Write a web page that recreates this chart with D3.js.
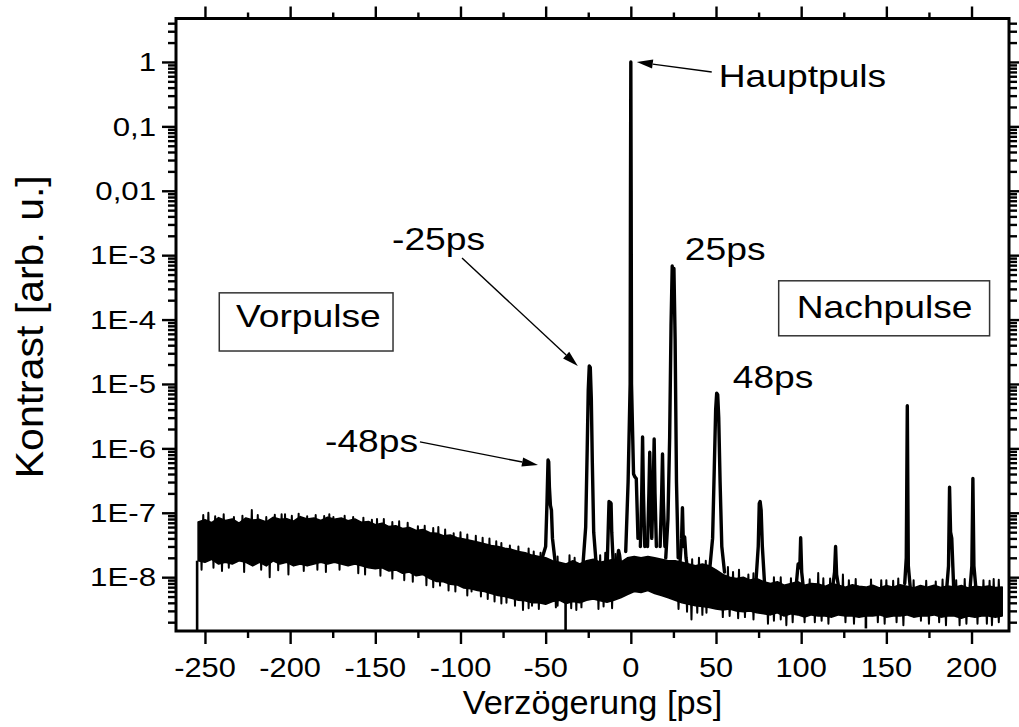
<!DOCTYPE html>
<html>
<head>
<meta charset="utf-8">
<script src="https://cdn.jsdelivr.net/npm/d3@7"></script>
<style>
  body { margin: 0; background: #fff; }
  svg { display: block; }
  text { font-family: "Liberation Sans", Arial, Helvetica, sans-serif; fill: #000; }
</style>
</head>
<body>
<svg id="chart" width="1019" height="727"></svg>
<script>
// ---- axis ticks -------------------------------------------------------
const xMajor = [-250, -200, -150, -100, -50, 0, 50, 100, 150, 200];
const xMinor = [-225, -175, -125, -75, -25, 25, 75, 125, 175];
const yMajor = [1, 0.1, 0.01, 1e-3, 1e-4, 1e-5, 1e-6, 1e-7, 1e-8];
const yLabels = ["1", "0,1", "0,01", "1E-3", "1E-4", "1E-5", "1E-6", "1E-7", "1E-8"];

// ---- noise floor of the contrast trace (values in units of 1e-9) -------
const bandX = [
  -254,-250,-246,-242,-238,-234,-230,-226,-222,-218,
  -214,-210,-206,-202,-198,-194,-190,-186,-182,-178,
  -174,-170,-166,-162,-158,-154,-150,-146,-142,-138,
  -134,-130,-126,-122,-118,-114,-110,-106,-102,-98,
  -94,-90,-86,-82,-78,-74,-70,-66,-62,-58,
  -54,-50,-46,-42,-38,-34,-30,-26,-22,-18,
  -14,-10,-6,-2,2,6,10,14,18,22,
  26,30,34,38,42,46,50,54,58,62,
  66,70,74,78,82,86,90,94,98,102,
  106,110,114,118,122,126,130,134,138,142,
  146,150,154,158,162,166,170,174,178,182,
  186,190,194,198,202,206,210,214,218
];
const bandHi = [
  72,78,70,84,76,80,69,83,77,79,
  72,85,79,81,74,87,80,83,76,85,
  79,83,75,80,71,73,65,69,61,63,
  57,59,53,55,49,48,44,45,41,39,
  37,35,33,31,30,28,27,25,24,22,
  21,20,18,17,16,18,16,18,19,17,
  18,19,17,20,21,20,21,20,19,18,
  18,17,16,15,16,15,13,11,10,9.5,
  10,9,9.5,8.5,8,8.5,7.5,8,8.5,7.5,
  8,7.8,7.2,8,7.5,7,7.6,7.2,7,7.5,
  6.8,7.4,7,7.6,7.2,6.8,7.4,7,7.5,6.9,
  7.3,7,7.4,6.8,7.2,7,7.3,6.9,7
];
const bandLo = [
  18,17,19,16,17,16,18,17,15,17,
  15,18,16,17,15,16,15,16,17,16,
  17,16,15,16,15,14,13.5,14,12.5,13,
  11.5,12,10.5,11,9.5,8.6,8.5,7.8,7.6,6.8,
  6.6,6.2,6,5.6,5.2,5,4.7,4.4,4.3,4,
  4,3.8,4.2,4.4,3.9,4.2,4,4.4,4.6,4.3,
  4.1,4.4,4.8,5.4,6,5.8,6.2,5.6,5.2,4.8,
  4.4,4,3.8,3.6,3.5,3.4,3.2,3.1,3.2,3,
  2.9,3.0,2.8,2.7,2.6,2.8,2.5,2.7,2.6,2.4,
  2.6,2.5,2.5,2.4,2.6,2.5,2.5,2.4,2.5,2.5,
  2.6,2.4,2.5,2.5,2.6,2.4,2.5,2.5,2.6,2.4,
  2.5,2.5,2.3,2.5,2.4,2.5,2.5,2.4,2.5
];

// single noise spikes sticking out of the floor (units of 1e-9)
const needleX = [
  // upward
  -251,-248,-244,-239,-233,-228,-222.5,-219,-214,-209,-205,-203,-199,-195,-190,-185,-180,-177,-174.6,-168,
  -163,-157,-152,-149,-145,-140,-136,-131,-125,-121,-116,-113,-109,-104,-100,-96,-91,-87,-83,-79,
  -76,-71,-66,-60,-57,-53,-43,-36,-33,-18,-15,-9,36,40,44,57,60,63.5,69,72,
  84,88,94,105,110,113,117,124.5,128,132,141,147,150,154,157,166,173.4,179,183,191,
  196,207,210.6,213,216,
  // downward
  -252,-245,-240,-236,-227,-217,-212,-207,-201,-192,-184,-179,-171,-160,-156,-147,-140,-133,-128,-120,
  -116,-112,-107,-103,-96,-93.5,-88,-84,-80,-76,-73,-68,-63.3,-60,-58,-54,-44,-43,-35,-32,
  -29,-19,-16,-11,28,33,35.6,39,42,44.4,54,58,63,67,72,80.5,84,88,91.3,95,
  102,108,112,116,126,131,145,149,156,160,170.3,175,181,185,193,197,203.5,209,212,216
];
const needleFoot = [
  40,40,40,40,40,40,40,40,40,40,40,40,40,40,40,40,40,40,40,40,
  38,36,34,33,32,30,29,28,26,24,22,21,20,19,18,17,16,15,14,13,
  12,11,10,9,9,8.5,8,8,8,9,9,9,7,7,6.5,5.5,5,5,5,5,
  4.4,4.4,4.4,4.2,4.2,4.2,4.2,4.2,4.2,4.2,4.2,4.2,4.2,4.2,4.2,4.2,4.2,4.2,4.2,4.2,
  4.2,4.2,4.2,4.2,4.2,
  40,40,40,40,40,40,40,40,40,40,40,40,38,36,35,32,30,28,26,24,
  22,21,19,18,16,15,14,13,12,11,10,10,9,9,9,8.5,8,8,8,8,
  8,9,9,9,7,7,7,7,6.5,6.5,5.5,5,5,5,5,4.6,4.4,4.4,4.4,4.4,
  4.2,4.2,4.2,4.2,4.2,4.2,4.2,4.2,4.2,4.2,4.2,4.2,4.2,4.2,4.2,4.2,4.2,4.2,4.2,4.2
];
const needleTip = [
  92,100,88,95,86,90,110,92,86,93,95,95,90,97,88,92,89,95,86,90,
  86,84,78,80,80,72,74,70,62,63,58,60,55,48,50,46,44,41,40,36,
  34,31,30,28,25,24,21,22,20,22,24,23,19,20,18,14.4,12,13,11,11.5,
  10,10,9.6,9.3,11.6,9.6,9.5,11,9,9.4,9.2,9,9,8.8,9.5,9,8.8,8.6,9.2,9,
  9.4,9,8.8,9.4,9.1,
  13,14,12.5,14,12,13,10,12.8,11,12.5,13,12,13,11.5,11,10.5,9.5,9,8.5,7.5,
  7,7.4,6.2,6,5.2,6,5,4.6,4.2,3.9,4,3.6,3.1,3.3,3.6,3.2,3.4,3.6,3.3,3.1,
  3.4,3.2,3.5,3.3,3.2,2.9,2.2,2.8,2.6,2.8,2.4,2.5,2.3,2.4,2.2,1.9,2.1,2.2,1.8,2.0,
  2.0,2.0,2.1,1.9,2.0,1.9,2.0,1.9,2.0,1.8,2.1,1.9,2.0,1.8,1.8,1.9,1.9,1.9,1.8,2.0
];

// drop-outs of the detector signal (units of 1e-9)
const dipX    = [-254.6, -38.3, 138];
const dipFrom = [18, 4, 2.5];
const dipTo   = [1.4, 1.45, 1.6];

// ---- pulses: delay (ps) and contrast ------------------------------------
const peakX = [
  [-52,-50,-49.2,-48.6,-48.2,-47.8,-47.2,-46.6,-46,-44.5],
  [-28,-26.5,-25.6,-25,-24.4,-23.8,-23.2,-22.6,-21.8,-20.5],
  [-13.8,-12.8,-12.4,-12,-11.6,-11.2,-10.4],
  [-8,-7.2,-6.6,-6],
  [-3,-1.6,-0.4,-0.2,0,0.2,0.4,1.6,2.4,3.2,4.2],
  [5.6,6.4,6.9,7.4,8.2],
  [9.8,10.6,11.1,11.6,12.3,13.2,13.7,14.2,15],
  [17.2,18.1,18.6,19.1,20],
  [20.5,21.8,22.8,23.6,24.3,24.8,25.3,26,26.8,27.8],
  [28.8,29.8,30.3,30.9,31.6,32.4,33.2],
  [46.5,48,49,49.8,50.4,51,51.6,52.4,53.4,55],
  [73.5,74.8,75.4,75.9,76.5,77.2,78.5],
  [97,98.2,99.2,99.7,100.3,101.5],
  [118.5,119.6,120.2,120.8,122],
  [160.8,161.7,162.3,162.9,164],
  [185.5,186.5,187.1,187.7,188.4,189.5],
  [199.2,200.2,200.8,201.4,202.5]
];
const peakV = [
  [2e-8,3e-8,1.5e-7,6.6e-7,6.2e-7,2.5e-7,1.3e-7,1.1e-7,4e-8,1.8e-8],
  [1.7e-8,6e-8,1e-6,8e-6,1.9e-5,1.8e-5,6e-6,6e-7,5e-8,1.8e-8],
  [1.8e-8,1.5e-7,1.2e-7,1.45e-7,1.4e-7,5e-8,1.8e-8],
  [1.7e-8,2.6e-8,2.2e-8,1.6e-8],
  [2.5e-8,3e-7,1e-5,1e-2,1,1e-2,1e-5,4e-7,3.6e-7,3.4e-7,4e-8],
  [3e-8,2e-7,1.5e-6,2e-7,3e-8],
  [3e-8,2e-7,8.7e-7,2e-7,4e-8,3e-7,1.4e-6,2e-7,3e-8],
  [3e-8,2e-7,8.2e-7,1.5e-7,3e-8],
  [2e-8,8e-8,1.5e-6,8e-5,6.8e-4,3e-4,6.2e-4,5e-5,3e-7,2e-8],
  [1.6e-8,4e-8,1.2e-7,3e-8,4.2e-8,2e-8,1.4e-8],
  [1.5e-8,4e-8,5e-7,4e-6,7.2e-6,6.8e-6,3e-6,3e-7,3e-8,1.2e-8],
  [9e-9,3e-8,1.4e-7,1.5e-7,1.1e-7,3e-8,8e-9],
  [7e-9,1.6e-8,1.4e-8,4.1e-8,1.2e-8,6e-9],
  [7e-9,1.2e-8,3e-8,1.1e-8,7e-9],
  [8e-9,2e-8,4.6e-6,1.5e-8,7e-9],
  [7e-9,1.5e-8,2.5e-7,5e-8,4e-8,7e-9],
  [7e-9,1.5e-8,3.4e-7,1.5e-8,7e-9]
];

// ---- annotations (delay in ps, contrast) --------------------------------
const noteText = ["Hauptpuls", "-25ps", "25ps", "48ps", "-48ps"];
const noteX    = [51.6, -140.2, 31.7, 59.8, -179.5];
const noteV    = [0.41, 1.2e-3, 8.4e-4, 8.7e-6, 8.8e-7];

const arrowFromX = [47.5, -99.1, -123.8];
const arrowFromV = [0.70, 9.05e-4, 1.26e-6];
const arrowToX   = [3.5, -31.1, -54.5];
const arrowToV   = [1.0, 1.9e-5, 5.5e-7];

const boxText  = ["Vorpulse", "Nachpulse"];
const boxTextX = [-231.8, 97.4];
const boxTextV = [7.67e-5, 1.06e-4];
const boxX0 = [-241.6, 86.8], boxX1 = [-139.6, 210.6];
const boxV0 = [2.6e-4, 4.0e-4], boxV1 = [3.25e-5, 5.6e-5];

// ---- layout -------------------------------------------------------------
const plot = { left: 176, right: 1009, top: 18.5, bottom: 631 };
const nano = 1e-9;
const svg = d3.select("#chart");

const x = d3.scaleLinear().domain([-267, 222]).range([plot.left, plot.right]);
const y = d3.scaleLog().domain([1.46e-9, 4.73]).range([plot.bottom, plot.top]);

svg.append("defs").append("clipPath").attr("id", "plotArea")
  .append("rect")
  .attr("x", plot.left).attr("y", plot.top)
  .attr("width", plot.right - plot.left).attr("height", plot.bottom - plot.top);

const data = svg.append("g").attr("clip-path", "url(#plotArea)");

// noise floor band
const band = bandX.map((t, i) => ({ t, lo: bandLo[i] * nano, hi: bandHi[i] * nano }));
data.append("path")
  .datum(band)
  .attr("d", d3.area().x(d => x(d.t)).y0(d => y(d.lo)).y1(d => y(d.hi)))
  .attr("fill", "#000").attr("stroke", "#000")
  .attr("stroke-width", 1.6).attr("stroke-linejoin", "round");

// spikes of the noise
data.append("g").selectAll("path")
  .data(needleX.map((t, i) => ({ t, foot: needleFoot[i] * nano, tip: needleTip[i] * nano })))
  .join("path")
  .attr("d", d => `M${x(d.t - 0.45)},${y(d.foot)}L${x(d.t)},${y(d.tip)}L${x(d.t + 0.45)},${y(d.foot)}`)
  .attr("fill", "#000").attr("stroke", "#000").attr("stroke-width", 2)
  .attr("stroke-linejoin", "round");

// drop-outs down to the bottom of the axis
data.append("g").selectAll("line")
  .data(dipX.map((t, i) => ({ t, a: dipFrom[i] * nano, b: dipTo[i] * nano })))
  .join("line")
  .attr("x1", d => x(d.t)).attr("x2", d => x(d.t))
  .attr("y1", d => y(d.a)).attr("y2", d => y(d.b))
  .attr("stroke", "#000").attr("stroke-width", 2.6);

// pulses
const pulseLine = d3.line().x(d => x(d[0])).y(d => y(d[1]));
data.append("g").selectAll("path")
  .data(peakX.map((xs, i) => xs.map((t, j) => [t, peakV[i][j]])))
  .join("path")
  .attr("d", pulseLine)
  .attr("fill", "none").attr("stroke", "#000").attr("stroke-width", 3.4)
  .attr("stroke-linejoin", "round").attr("stroke-linecap", "round");

// ---- axes ---------------------------------------------------------------
function styleAxis(g) {
  g.select(".domain").remove();
  g.selectAll("line").attr("stroke", "#000").attr("stroke-width", 2.4);
  g.selectAll("text").remove();
}
const yMinor = y.ticks(40).filter(v => !yMajor.some(m => Math.abs(Math.log10(v) - Math.log10(m)) < 1e-6));

svg.append("g").attr("transform", `translate(0,${plot.bottom})`)
  .call(d3.axisBottom(x).tickValues(xMajor).tickSize(13)).call(styleAxis);
svg.append("g").attr("transform", `translate(0,${plot.bottom})`)
  .call(d3.axisBottom(x).tickValues(xMinor).tickSize(7)).call(styleAxis);
svg.append("g").attr("transform", `translate(0,${plot.top})`)
  .call(d3.axisTop(x).tickValues(xMajor).tickSize(12)).call(styleAxis);
svg.append("g").attr("transform", `translate(0,${plot.top})`)
  .call(d3.axisTop(x).tickValues(xMinor).tickSize(6)).call(styleAxis);

svg.append("g").attr("transform", `translate(${plot.left},0)`)
  .call(d3.axisLeft(y).tickValues(yMajor).tickSize(14)).call(styleAxis);
svg.append("g").attr("transform", `translate(${plot.left},0)`)
  .call(d3.axisLeft(y).tickValues(yMinor).tickSize(8)).call(styleAxis);
svg.append("g").attr("transform", `translate(${plot.right},0)`)
  .call(d3.axisRight(y).tickValues(yMajor).tickSize(14)).call(styleAxis);
svg.append("g").attr("transform", `translate(${plot.right},0)`)
  .call(d3.axisRight(y).tickValues(yMinor).tickSize(8)).call(styleAxis);

// frame
svg.append("rect")
  .attr("x", plot.left).attr("y", plot.top)
  .attr("width", plot.right - plot.left).attr("height", plot.bottom - plot.top)
  .attr("fill", "none").attr("stroke", "#000").attr("stroke-width", 3);

// text helper: stretched horizontally around its anchor
function label(parent, str, px, py, size, sx, anchor) {
  return parent.append("text")
    .attr("transform", `translate(${px},${py}) scale(${sx},1)`)
    .attr("font-size", size)
    .attr("text-anchor", anchor || "start")
    .text(str);
}

const labels = svg.append("g");
xMajor.forEach(d => label(labels, String(d), x(d), 677, 28, 1.1, "middle"));
yMajor.forEach((v, i) => label(labels, yLabels[i], 156, y(v) + 9.3, 26, 1.2, "end"));

label(labels, "Verzögerung [ps]", (plot.left + plot.right) / 2, 714, 33, 1.04, "middle");
labels.append("text")
  .attr("transform", `translate(43,${(plot.top + plot.bottom) / 2 + 2}) scale(0.95,1) rotate(-90)`)
  .attr("font-size", 41).attr("text-anchor", "middle")
  .text("Kontrast [arb. u.]");

// ---- annotations --------------------------------------------------------
const notes = svg.append("g");
noteText.forEach((s, i) => label(notes, s, x(noteX[i]), y(noteV[i]), 31, 1.2, "start"));

arrowFromX.forEach((fx, i) => {
  const x1 = x(fx), y1 = y(arrowFromV[i]);
  const x2 = x(arrowToX[i]), y2 = y(arrowToV[i]);
  const a = Math.atan2(y2 - y1, x2 - x1);
  const len = 16, half = 4.5;
  const bx = x2 - len * Math.cos(a), by = y2 - len * Math.sin(a);
  notes.append("line")
    .attr("x1", x1).attr("y1", y1).attr("x2", bx).attr("y2", by)
    .attr("stroke", "#000").attr("stroke-width", 1.4);
  notes.append("path")
    .attr("d", `M${x2},${y2}L${bx + half * Math.sin(a)},${by - half * Math.cos(a)}L${bx - half * Math.sin(a)},${by + half * Math.cos(a)}Z`)
    .attr("fill", "#000");
});

boxText.forEach((s, i) => {
  notes.append("rect")
    .attr("x", x(boxX0[i])).attr("y", y(boxV0[i]))
    .attr("width", x(boxX1[i]) - x(boxX0[i])).attr("height", y(boxV1[i]) - y(boxV0[i]))
    .attr("fill", "#fff").attr("stroke", "#333").attr("stroke-width", 1.5);
  label(notes, s, x(boxTextX[i]), y(boxTextV[i]), 31, 1.2, "start");
});
</script>
</body>
</html>
